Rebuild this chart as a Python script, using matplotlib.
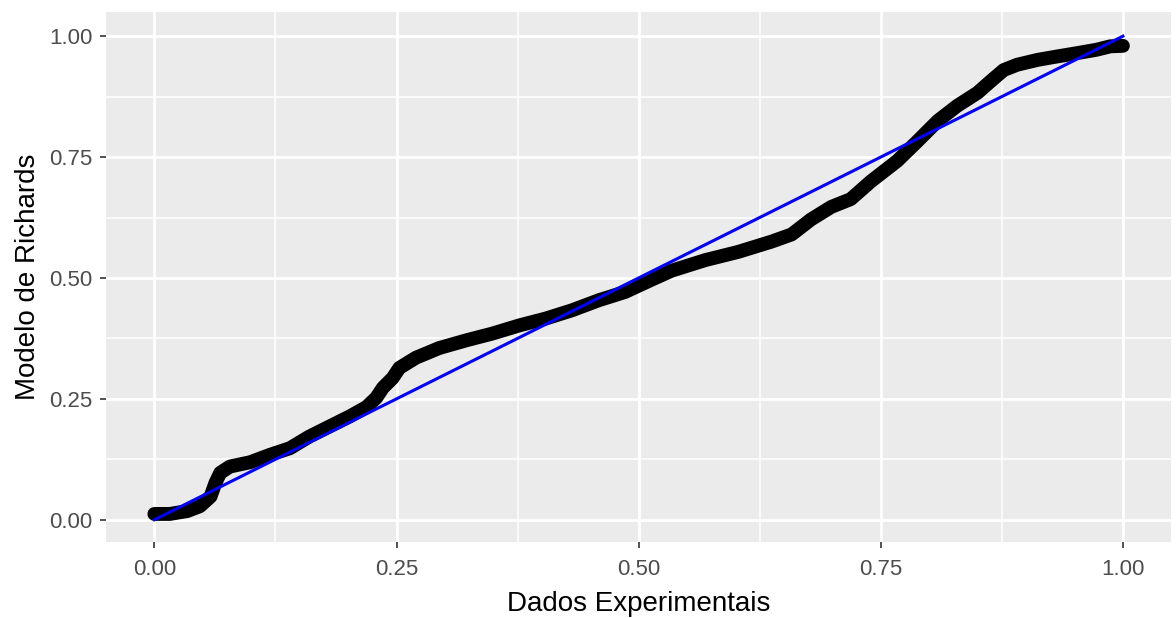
import matplotlib.pyplot as plt

# Richards model vs experimental data (normalised)
dados = [0.0, 0.016, 0.034, 0.047, 0.058, 0.063, 0.068, 0.078, 0.099, 0.119,
         0.14, 0.16, 0.181, 0.202, 0.219, 0.229, 0.236, 0.246, 0.253, 0.27,
         0.294, 0.322, 0.349, 0.377, 0.404, 0.431, 0.459, 0.486, 0.514, 0.534,
         0.569, 0.603, 0.637, 0.658, 0.678, 0.699, 0.719, 0.74, 0.767, 0.788,
         0.809, 0.829, 0.85, 0.863, 0.877, 0.891, 0.912, 0.932, 0.953, 0.973,
         0.987, 1.0]
richards = [0.012, 0.012, 0.018, 0.028, 0.048, 0.076, 0.097, 0.11, 0.119, 0.134,
            0.148, 0.172, 0.193, 0.214, 0.233, 0.252, 0.273, 0.293, 0.314, 0.335,
            0.355, 0.371, 0.385, 0.402, 0.416, 0.433, 0.454, 0.471, 0.497, 0.515,
            0.537, 0.554, 0.575, 0.59, 0.621, 0.647, 0.663, 0.70, 0.742, 0.783,
            0.825, 0.856, 0.883, 0.906, 0.93, 0.941, 0.951, 0.958, 0.965, 0.972,
            0.979, 0.98]

# reference line y = x
ref_x = [0.0, 1.0]
ref_y = [0.0, 1.0]

ticks = [0.0, 0.25, 0.5, 0.75, 1.0]
tick_labels = ["0.00", "0.25", "0.50", "0.75", "1.00"]
minor = [0.125, 0.375, 0.625, 0.875]

plt.rcParams['font.family'] = ['Liberation Sans', 'DejaVu Sans']

fig = plt.figure(figsize=(11.76, 6.18), dpi=100)
ax = fig.add_axes([0.0901, 0.1230, 0.9059, 0.8576])
ax.set_facecolor('#EBEBEB')
for s in ax.spines.values():
    s.set_visible(False)

ax.set_xlim(-0.05, 1.05)
ax.set_ylim(-0.046, 1.05)

for v in minor:
    ax.axvline(v, color='white', lw=1.1, zorder=0)
    ax.axhline(v, color='white', lw=1.1, zorder=0)
for v in ticks:
    ax.axvline(v, color='white', lw=2.0, zorder=0)
    ax.axhline(v, color='white', lw=2.0, zorder=0)

ax.plot(dados, richards, color='black', lw=10, solid_capstyle='round',
        solid_joinstyle='round', zorder=2)
ax.plot(ref_x, ref_y, color='blue', lw=2.2, zorder=3)

ax.set_xticks(ticks)
ax.set_xticklabels(tick_labels)
ax.set_yticks(ticks)
ax.set_yticklabels(tick_labels)
ax.tick_params(axis='both', colors='#333333', labelcolor='#4D4D4D',
               labelsize=16, length=4.5, width=1.2)
ax.tick_params(axis='x', pad=8)
ax.tick_params(axis='y', pad=5)

ax.set_xlabel("Dados Experimentais", fontsize=20, color='black', labelpad=8)
ax.set_ylabel("Modelo de Richards", fontsize=20, color='black', labelpad=6)

fig.savefig("out.png", dpi=100)
